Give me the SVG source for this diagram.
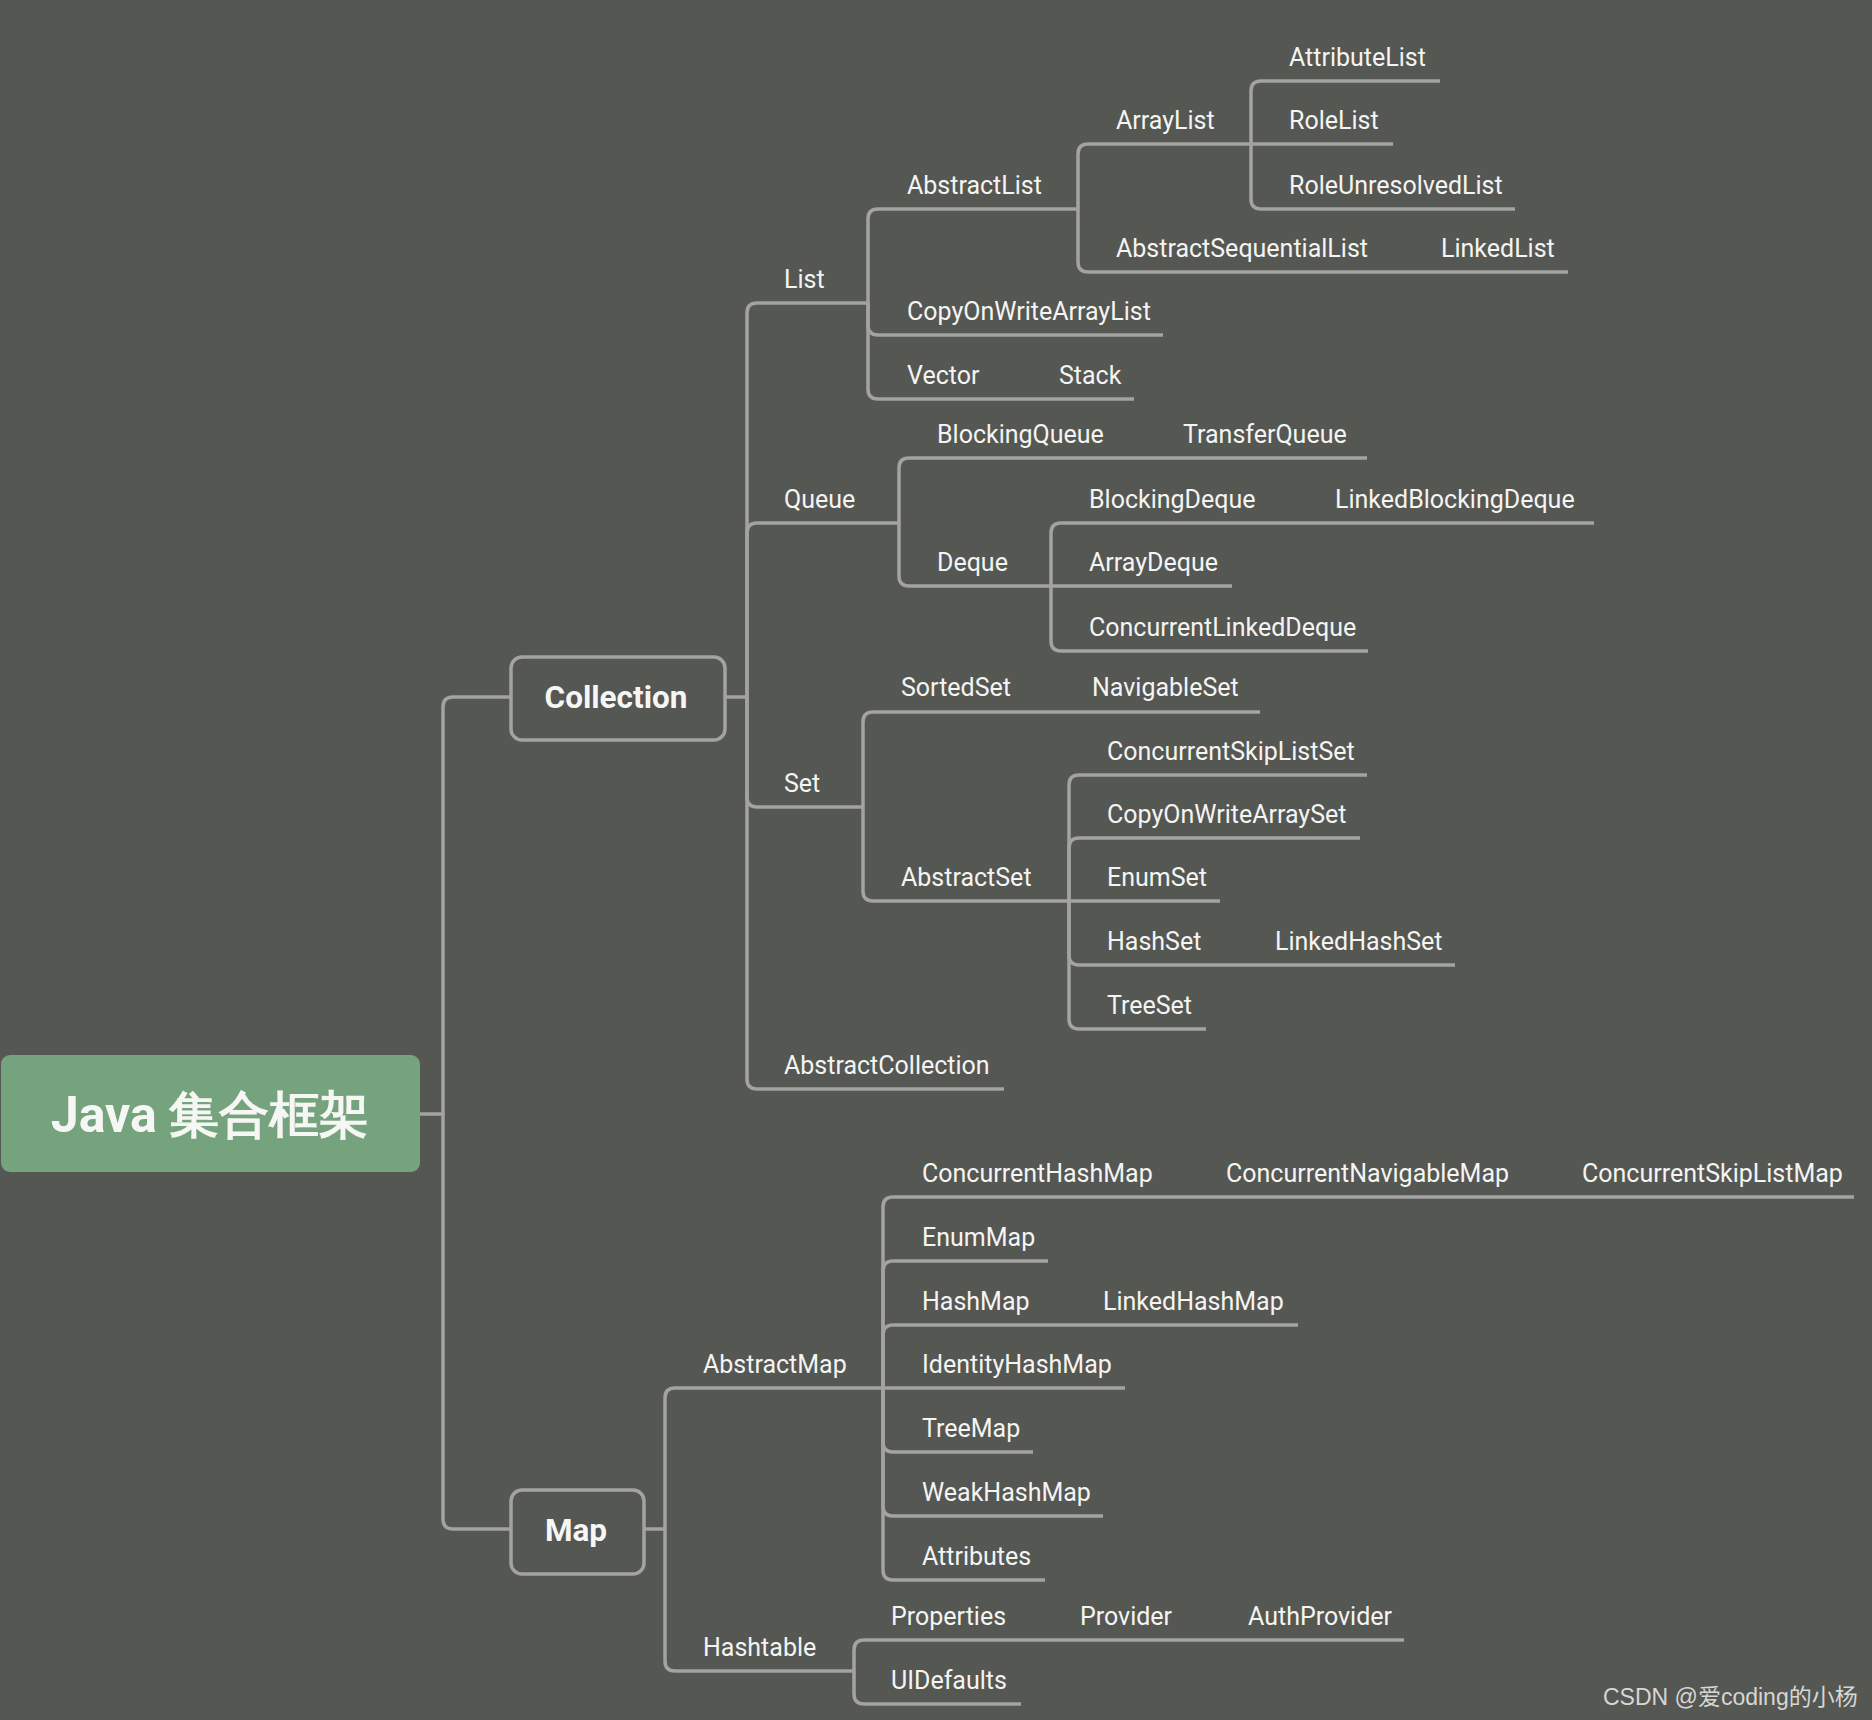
<svg xmlns="http://www.w3.org/2000/svg" width="1872" height="1720" viewBox="0 0 1872 1720">
<style>
.bg{fill:#555753}
.c{fill:none;stroke:#a3a3a1;stroke-width:3.5;stroke-linecap:butt}
.t{font-family:Roboto,"Liberation Sans",sans-serif;font-size:25px;fill:#f4f4f2}
.b{font-family:Roboto,"Liberation Sans",sans-serif;font-weight:bold;fill:#f6f6f4;text-anchor:middle}
.box{fill:#555753;stroke:#a3a3a1;stroke-width:3.5}
.wm{font-family:"Liberation Sans","Noto Sans CJK SC",sans-serif;font-size:23px;fill:#d6d6d4}
</style>
<rect class="bg" x="0" y="0" width="1872" height="1720"/>
<g id="connectors">
<path class="c" d="M420,1114 H443 V707 Q443,697 453,697 H511"/>
<path class="c" d="M443,1114 V1519 Q443,1529 453,1529 H511"/>
<path class="c" d="M725,697 H747"/>
<path class="c" d="M747,697 V313 Q747,303 757,303 H868"/>
<path class="c" d="M747,697 V533 Q747,523 757,523 H899"/>
<path class="c" d="M747,697 V797 Q747,807 757,807 H863"/>
<path class="c" d="M747,697 V1079 Q747,1089 757,1089 H1004"/>
<path class="c" d="M868,303 V219 Q868,209 878,209 H1078"/>
<path class="c" d="M868,303 V325 Q868,335 878,335 H1163"/>
<path class="c" d="M868,303 V389 Q868,399 878,399 H1040"/>
<path class="c" d="M1040,399 H1134"/>
<path class="c" d="M1078,209 V154 Q1078,144 1088,144 H1251"/>
<path class="c" d="M1078,209 V262 Q1078,272 1088,272 H1410"/>
<path class="c" d="M1410,272 H1568"/>
<path class="c" d="M1251,144 V91 Q1251,81 1261,81 H1440"/>
<path class="c" d="M1251,144 H1393"/>
<path class="c" d="M1251,144 V199 Q1251,209 1261,209 H1515"/>
<path class="c" d="M899,523 V468 Q899,458 909,458 H1160"/>
<path class="c" d="M1160,458 H1367"/>
<path class="c" d="M899,523 V576 Q899,586 909,586 H1051"/>
<path class="c" d="M1051,586 V533 Q1051,523 1061,523 H1310"/>
<path class="c" d="M1310,523 H1594"/>
<path class="c" d="M1051,586 H1232"/>
<path class="c" d="M1051,586 V641 Q1051,651 1061,651 H1368"/>
<path class="c" d="M863,807 V722 Q863,712 873,712 H1070"/>
<path class="c" d="M1070,712 H1260"/>
<path class="c" d="M863,807 V891 Q863,901 873,901 H1069"/>
<path class="c" d="M1069,901 V785 Q1069,775 1079,775 H1367"/>
<path class="c" d="M1069,901 V848 Q1069,838 1079,838 H1360"/>
<path class="c" d="M1069,901 H1220"/>
<path class="c" d="M1069,901 V955 Q1069,965 1079,965 H1255"/>
<path class="c" d="M1255,965 H1455"/>
<path class="c" d="M1069,901 V1019 Q1069,1029 1079,1029 H1206"/>
<path class="c" d="M644,1529 H665"/>
<path class="c" d="M665,1529 V1398 Q665,1388 675,1388 H883"/>
<path class="c" d="M665,1529 V1661 Q665,1671 675,1671 H854"/>
<path class="c" d="M883,1388 V1207 Q883,1197 893,1197 H1205"/>
<path class="c" d="M1205,1197 H1560"/>
<path class="c" d="M1560,1197 H1854"/>
<path class="c" d="M883,1388 V1271 Q883,1261 893,1261 H1048"/>
<path class="c" d="M883,1388 V1335 Q883,1325 893,1325 H1085"/>
<path class="c" d="M1085,1325 H1298"/>
<path class="c" d="M883,1388 H1125"/>
<path class="c" d="M883,1388 V1442 Q883,1452 893,1452 H1033"/>
<path class="c" d="M883,1388 V1506 Q883,1516 893,1516 H1103"/>
<path class="c" d="M883,1388 V1570 Q883,1580 893,1580 H1045"/>
<path class="c" d="M854,1671 V1650 Q854,1640 864,1640 H1062"/>
<path class="c" d="M1062,1640 H1230"/>
<path class="c" d="M1230,1640 H1404"/>
<path class="c" d="M854,1671 V1694 Q854,1704 864,1704 H1021"/>
</g>
<g id="root"><rect x="1" y="1055" width="419" height="117" rx="9" fill="#74a37d"/><text class="b" x="210" y="1132" font-size="50" font-family="Roboto,'Noto Sans CJK SC',sans-serif">Java 集合框架</text></g>
<g id="collection"><rect class="box" x="511" y="657" width="214" height="83" rx="11"/><text class="b" x="616" y="708" font-size="31.5">Collection</text></g>
<g id="map"><rect class="box" x="511" y="1490" width="133" height="84" rx="11"/><text class="b" x="576" y="1541" font-size="31.5">Map</text></g>
<g id="n-list"><text class="t" x="784" y="288">List</text></g>
<g id="n-queue"><text class="t" x="784" y="508">Queue</text></g>
<g id="n-set"><text class="t" x="784" y="792">Set</text></g>
<g id="n-abstractcollection"><text class="t" x="784" y="1074">AbstractCollection</text></g>
<g id="n-abstractlist"><text class="t" x="907" y="194">AbstractList</text></g>
<g id="n-copyonwritearraylist"><text class="t" x="907" y="320">CopyOnWriteArrayList</text></g>
<g id="n-vector"><text class="t" x="907" y="384">Vector</text></g>
<g id="n-stack"><text class="t" x="1059" y="384">Stack</text></g>
<g id="n-arraylist"><text class="t" x="1116" y="129">ArrayList</text></g>
<g id="n-abstractsequentiallist"><text class="t" x="1116" y="257">AbstractSequentialList</text></g>
<g id="n-linkedlist"><text class="t" x="1441" y="257">LinkedList</text></g>
<g id="n-attributelist"><text class="t" x="1289" y="66">AttributeList</text></g>
<g id="n-rolelist"><text class="t" x="1289" y="129">RoleList</text></g>
<g id="n-roleunresolvedlist"><text class="t" x="1289" y="194">RoleUnresolvedList</text></g>
<g id="n-blockingqueue"><text class="t" x="937" y="443">BlockingQueue</text></g>
<g id="n-transferqueue"><text class="t" x="1183" y="443">TransferQueue</text></g>
<g id="n-deque"><text class="t" x="937" y="571">Deque</text></g>
<g id="n-blockingdeque"><text class="t" x="1089" y="508">BlockingDeque</text></g>
<g id="n-linkedblockingdeque"><text class="t" x="1335" y="508">LinkedBlockingDeque</text></g>
<g id="n-arraydeque"><text class="t" x="1089" y="571">ArrayDeque</text></g>
<g id="n-concurrentlinkeddeque"><text class="t" x="1089" y="636">ConcurrentLinkedDeque</text></g>
<g id="n-sortedset"><text class="t" x="901" y="696">SortedSet</text></g>
<g id="n-navigableset"><text class="t" x="1092" y="696">NavigableSet</text></g>
<g id="n-abstractset"><text class="t" x="901" y="886">AbstractSet</text></g>
<g id="n-concurrentskiplistset"><text class="t" x="1107" y="760">ConcurrentSkipListSet</text></g>
<g id="n-copyonwritearrayset"><text class="t" x="1107" y="823">CopyOnWriteArraySet</text></g>
<g id="n-enumset"><text class="t" x="1107" y="886">EnumSet</text></g>
<g id="n-hashset"><text class="t" x="1107" y="950">HashSet</text></g>
<g id="n-linkedhashset"><text class="t" x="1275" y="950">LinkedHashSet</text></g>
<g id="n-treeset"><text class="t" x="1107" y="1014">TreeSet</text></g>
<g id="n-abstractmap"><text class="t" x="703" y="1373">AbstractMap</text></g>
<g id="n-hashtable"><text class="t" x="703" y="1656">Hashtable</text></g>
<g id="n-concurrenthashmap"><text class="t" x="922" y="1182">ConcurrentHashMap</text></g>
<g id="n-concurrentnavigablemap"><text class="t" x="1226" y="1182">ConcurrentNavigableMap</text></g>
<g id="n-concurrentskiplistmap"><text class="t" x="1582" y="1182">ConcurrentSkipListMap</text></g>
<g id="n-enummap"><text class="t" x="922" y="1246">EnumMap</text></g>
<g id="n-hashmap"><text class="t" x="922" y="1310">HashMap</text></g>
<g id="n-linkedhashmap"><text class="t" x="1103" y="1310">LinkedHashMap</text></g>
<g id="n-identityhashmap"><text class="t" x="922" y="1373">IdentityHashMap</text></g>
<g id="n-treemap"><text class="t" x="922" y="1437">TreeMap</text></g>
<g id="n-weakhashmap"><text class="t" x="922" y="1501">WeakHashMap</text></g>
<g id="n-attributes"><text class="t" x="922" y="1565">Attributes</text></g>
<g id="n-properties"><text class="t" x="891" y="1625">Properties</text></g>
<g id="n-provider"><text class="t" x="1080" y="1625">Provider</text></g>
<g id="n-authprovider"><text class="t" x="1248" y="1625">AuthProvider</text></g>
<g id="n-uidefaults"><text class="t" x="891" y="1689">UIDefaults</text></g>
<text class="wm" x="1603" y="1705">CSDN @爱coding的小杨</text>
</svg>
